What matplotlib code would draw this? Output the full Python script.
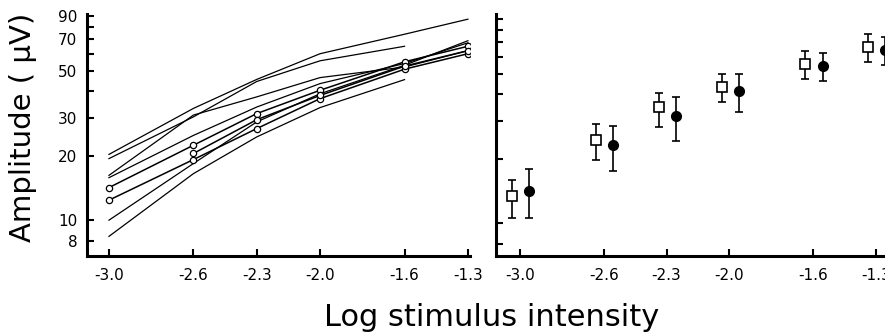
import numpy as np
from matplotlib import pyplot as plt
from matplotlib.ticker import FixedLocator, NullLocator, FixedFormatter

plt.rcParams['font.family'] = ['Liberation Sans Narrow', 'DejaVu Sans']

# log stimulus intensity
x = [-3.0, -2.6, -2.3, -2.0, -1.6, -1.3]
xticklabels = ['-3.0', '-2.6', '-2.3', '-2.0', '-1.6', '-1.3']

# individual curves (left panel), NaN = not measured
nan = np.nan
curves = [
    [20.3, 33.3, 45.5, 60.0, 74.0, 87.0],
    [19.4, 30.4, 44.5, 55.6, 65.0, nan],
    [16.2, 31.0, 37.7, 46.4, 52.0, 62.0],
    [15.8, 24.9, 33.8, 43.5, 54.0, 67.5],
    [10.0, 18.4, 28.8, 39.0, 53.0, 69.0],
    [8.4, 16.5, 24.5, 33.6, 45.4, nan],
]
# curves drawn with open circles
circle_curves = [
    [14.2, 22.4, 31.5, 40.5, 55.0, 65.0],
    [12.4, 19.2, 26.8, 37.0, 50.8, 60.0],
    [nan, 20.5, 29.5, 38.3, 52.5, 62.0],
]

# group means with error bars (right panel)
open_mean = [13.3, 24.4, 34.8, 43.1, 55.3, 66.7]
open_lo = [10.5, 19.7, 28.2, 36.9, 47.1, 56.5]
open_hi = [15.9, 29.0, 40.6, 49.7, 63.7, 76.2]
filled_mean = [14.1, 23.1, 31.7, 41.5, 54.3, 64.3]
filled_lo = [10.5, 17.5, 24.2, 32.9, 45.9, 54.7]
filled_hi = [17.8, 28.4, 38.9, 49.7, 62.1, 74.3]

yticks = [8, 10, 20, 30, 40, 50, 60, 70, 80, 90]
ylabels = ['8', '10', '20', '30', '', '50', '', '70', '', '90']

fig = plt.figure(figsize=(8.85, 3.36), dpi=100)
ax1 = fig.add_axes([87 / 885, 80 / 336, 383 / 885, 242 / 336])
ax2 = fig.add_axes([496 / 885, 80 / 336, 389 / 885, 242 / 336])

for c in curves:
    ax1.plot(x, c, color='black', lw=0.9)
for c in circle_curves:
    ax1.plot(x, c, color='black', lw=1.1, marker='o', ms=4.5,
             mfc='white', mec='black', mew=0.9)

xs = np.array(x)
ax2.errorbar(xs - 0.037, open_mean,
             yerr=[np.array(open_mean) - np.array(open_lo), np.array(open_hi) - np.array(open_mean)],
             fmt='s', ms=6.5, mfc='white', mec='black', mew=1.2, ecolor='black',
             elinewidth=1.2, capsize=3, capthick=1.2, clip_on=False)
ax2.errorbar(xs + 0.045, filled_mean,
             yerr=[np.array(filled_mean) - np.array(filled_lo), np.array(filled_hi) - np.array(filled_mean)],
             fmt='o', ms=7, mfc='black', mec='black', ecolor='black',
             elinewidth=1.2, capsize=3, capthick=1.2, clip_on=False)

for ax in (ax1, ax2):
    ax.set_yscale('log')
    ax.yaxis.set_major_locator(FixedLocator(yticks))
    ax.yaxis.set_minor_locator(NullLocator())
    ax.set_xticks(x)
    ax.set_xticklabels(xticklabels)
    for s in ['top', 'right']:
        ax.spines[s].set_visible(False)
    for s in ['left', 'bottom']:
        ax.spines[s].set_linewidth(2.2)
    ax.tick_params(direction='in', length=5, width=1.5, labelsize=11, pad=9)

ax1.set_xlim(-3.104, -1.29)
ax1.set_ylim(6.8, 92)
ax1.yaxis.set_major_formatter(FixedFormatter(ylabels))
ax1.tick_params(axis='y', labelsize=11, pad=7)

ax2.set_xlim(-3.114, -1.257)
ax2.set_ylim(7.0, 95)
ax2.set_yticklabels([])

fig.text(0.026, 0.62, 'Amplitude ( \u03bcV)', rotation=90, ha='center', va='center',
         fontsize=21, family=['DejaVu Sans'])
fig.text(0.555, 0.055, 'Log stimulus intensity', ha='center', va='center',
         fontsize=22, family=['DejaVu Sans'])

fig.savefig('out.png', dpi=100)
